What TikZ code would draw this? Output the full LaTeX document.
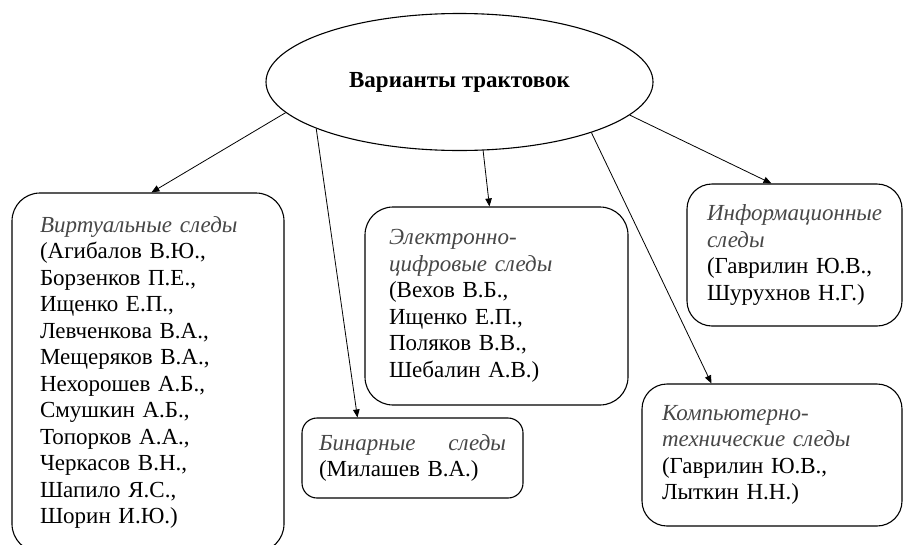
\documentclass[tikz,border=0pt]{standalone}
\usepackage{fontspec}
\setmainfont{Liberation Serif}
\usetikzlibrary{shapes.geometric,arrows.meta}
\newcommand{\tracename}[1]{\textcolor{black!72}{\textit{#1}}}
\begin{document}
\begin{tikzpicture}[node distance=100pt,>={Triangle[length=8pt,width=6.5pt]},
  trace/.style={draw,line width=1.1pt,rounded corners=28pt,align=left,inner sep=0pt,
    font=\fontsize{23}{26.5}\selectfont}]
  \useasboundingbox (0pt,0pt) rectangle (904pt,-544pt);
  \clip (0pt,0pt) rectangle (904pt,-544pt);
  \node (ell) [ellipse,draw,line width=1.1pt,minimum width=387pt,minimum height=137pt,
    font=\fontsize{23}{26}\selectfont\bfseries] at (459.5pt,-82pt) {Варианты трактовок};
  \node (virt) [trace,below of=ell,xshift=-311.5pt,yshift=-190.5pt,
    minimum width=272pt,minimum height=359pt,text width=216pt]
    {\tracename{Виртуальные следы}\\(Агибалов В.Ю.,\\Борзенков П.Е.,\\Ищенко Е.П.,\\
     Левченкова В.А.,\\Мещеряков В.А.,\\Нехорошев А.Б.,\\Смушкин А.Б.,\\
     Топорков А.А.,\\Черкасов В.Н.,\\Шапило Я.С.,\\Шорин И.Ю.)};
  \node (bin) [trace,rounded corners=15pt,below of=ell,xshift=-47pt,yshift=-276pt,
    minimum width=221pt,minimum height=80pt,text width=187pt]
    {\tracename{Бинарные\hfill следы}\\(Милашев В.А.)};
  \node (elec) [trace,below of=ell,xshift=37pt,yshift=-124pt,
    minimum width=263pt,minimum height=198pt,text width=215pt]
    {\tracename{Электронно-}\\\tracename{цифровые следы}\\(Вехов В.Б.,\\Ищенко Е.П.,\\
     Поляков В.В.,\\Шебалин А.В.)};
  \node (info) [trace,rounded corners=25pt,below of=ell,xshift=335pt,yshift=-73pt,
    minimum width=215pt,minimum height=142pt,text width=175pt]
    {\tracename{Информационные}\\\tracename{следы}\\(Гаврилин Ю.В.,\\Шурухнов Н.Г.)};
  \node (komp) [trace,rounded corners=25pt,below of=ell,xshift=312.5pt,yshift=-273pt,
    minimum width=260pt,minimum height=142pt,text width=220pt]
    {\tracename{Компьютерно-}\\\tracename{технические следы}\\(Гаврилин Ю.В.,\\Лыткин Н.Н.)};
  \draw[->,line width=0.8pt] (ell.190.7) -- ([xshift=140pt]virt.north west);
  \draw[->,line width=0.8pt] (ell.198.5) -- ([xshift=56pt]bin.north west);
  \draw[->,line width=0.8pt] (ell.289.1) -- ([xshift=125pt]elec.north west);
  \draw[->,line width=0.8pt] (ell.339.7) -- ([xshift=70pt]komp.north west);
  \draw[->,line width=0.8pt] (ell.349.9) -- ([xshift=85pt]info.north west);
\end{tikzpicture}
\end{document}
